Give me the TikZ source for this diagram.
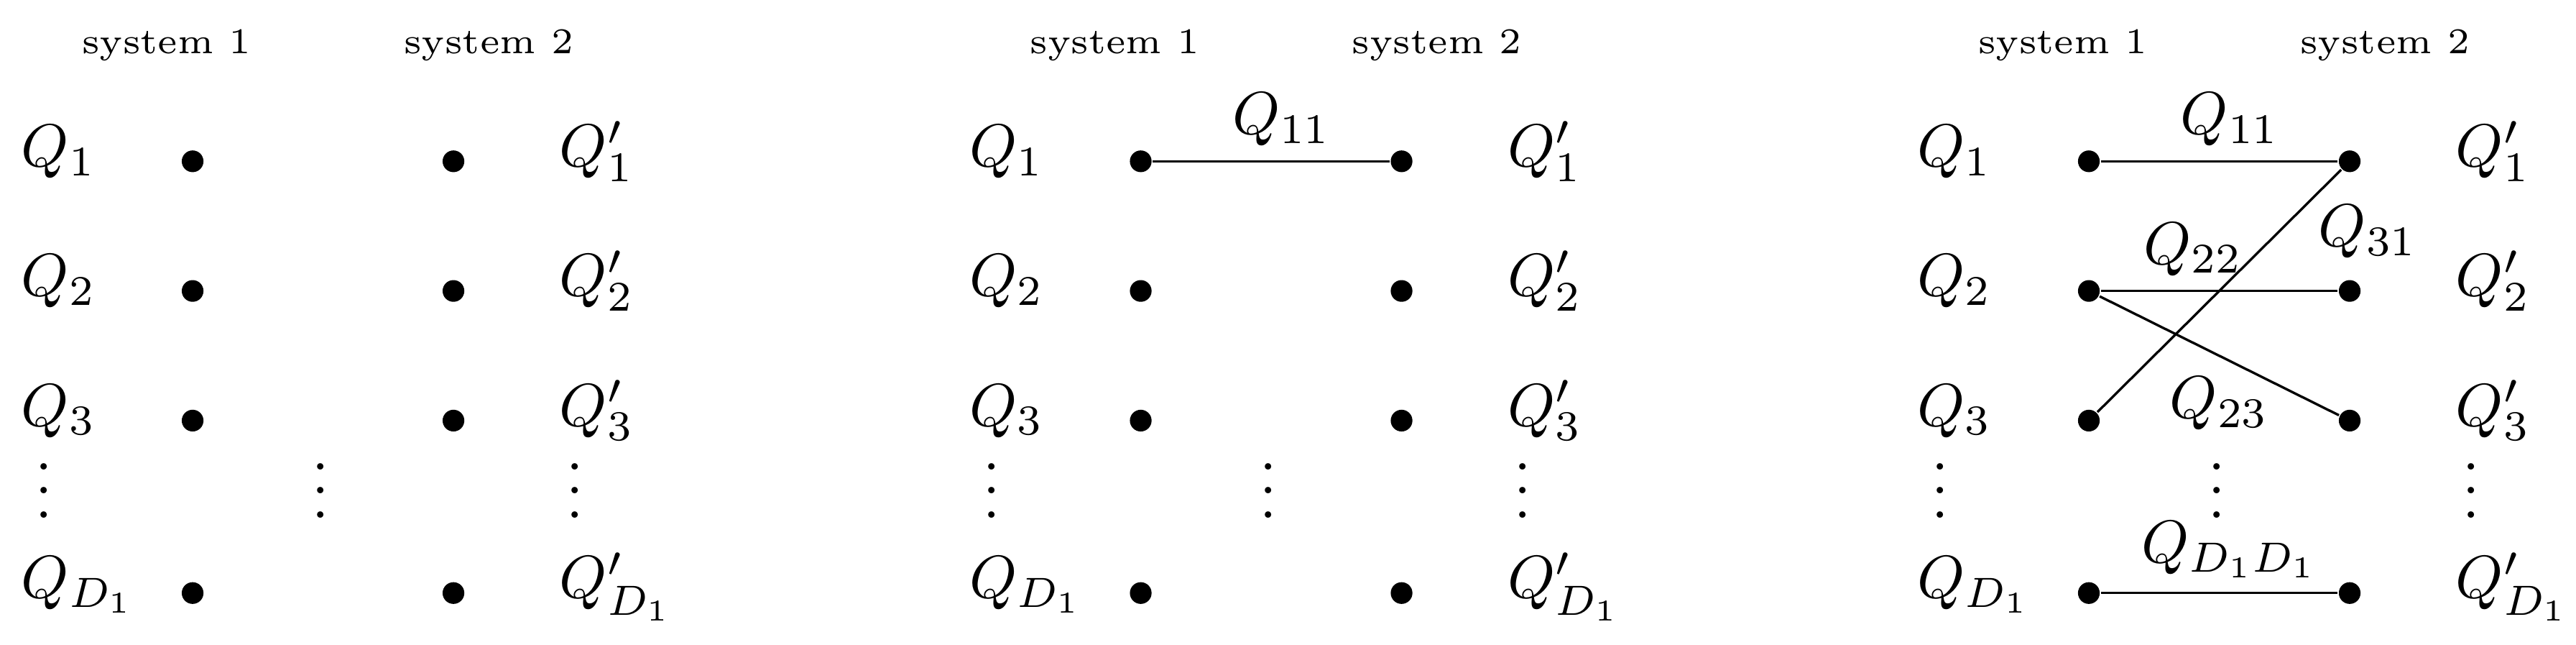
\documentclass[tikz,border=0pt]{standalone}
\usepackage{amsmath}

\begin{document}
\begin{tikzpicture}[x=0.76cm,y=0.755cm,
	qdot/.style={circle,fill,inner sep=0pt,minimum size=3.6pt},
	qlabel/.style={anchor=base west},
	syslabel/.style={anchor=base,font=\fontsize{6}{7}\selectfont},
	qc/.style={above,yshift=-1pt}]
		\useasboundingbox (-1.477,-3.728) rectangle (18.275,1.244);

		% Uncoupled systems
		\begin{scope}
			\node[syslabel] (sa1) at (-0.2,0.833) {system 1};
			\node[syslabel] (sa2) at (2.27,0.833) {system 2};
			\foreach \r/\y/\s in {1/0/1,2/-1/2,3/-2/3,D/-3.33/D_1}{
				\node[qdot] (a\r) at (0,\y) {};
				\node[qdot] (b\r) at (2,\y) {};
				\node[qlabel] (la\r) at (-1.477,\y-0.04) {$Q_{\s}$};
				\node[qlabel] (lb\r) at (2.65,\y-0.04) {$Q'_{\s}$};
			}
			\node (av1) at (-1.14,-2.4) {$\vdots$};
			\node (av2) at (0.98,-2.4) {$\vdots$};
			\node (av3) at (2.93,-2.4) {$\vdots$};
		\end{scope}

		% One coupling
		\begin{scope}[xshift=5.525cm]
			\node[syslabel] (sc1) at (-0.2,0.833) {system 1};
			\node[syslabel] (sc2) at (2.27,0.833) {system 2};
			\foreach \r/\y/\s in {1/0/1,2/-1/2,3/-2/3,D/-3.33/D_1}{
				\node[qdot] (c\r) at (0,\y) {};
				\node[qdot] (d\r) at (2,\y) {};
				\node[qlabel] (lc\r) at (-1.477,\y-0.04) {$Q_{\s}$};
				\node[qlabel] (ld\r) at (2.65,\y-0.04) {$Q'_{\s}$};
			}
			\node (cv1) at (-1.14,-2.4) {$\vdots$};
			\node (cv2) at (0.98,-2.4) {$\vdots$};
			\node (cv3) at (2.93,-2.4) {$\vdots$};
			\draw (c1) -- node[qc,pos=0.545] (cq11) {$Q_{11}$} (d1);
		\end{scope}

		% Several couplings
		\begin{scope}[xshift=11.05cm]
			\node[syslabel] (se1) at (-0.2,0.833) {system 1};
			\node[syslabel] (se2) at (2.27,0.833) {system 2};
			\foreach \r/\y/\s in {1/0/1,2/-1/2,3/-2/3,D/-3.33/D_1}{
				\node[qdot] (e\r) at (0,\y) {};
				\node[qdot] (f\r) at (2,\y) {};
				\node[qlabel] (le\r) at (-1.477,\y-0.04) {$Q_{\s}$};
				\node[qlabel] (lf\r) at (2.65,\y-0.04) {$Q'_{\s}$};
			}
			\node (ev1) at (-1.14,-2.4) {$\vdots$};
			\node (ev2) at (0.98,-2.4) {$\vdots$};
			\node (ev3) at (2.93,-2.4) {$\vdots$};
			\draw (e1) -- node[qc,pos=0.545] (eq11) {$Q_{11}$} (f1);
			\draw (e2) -- node[qc,pos=0.39] (eq22) {$Q_{22}$} (f2);
			\draw (e2) -- node[below] (eq23) {$Q_{23}$} (f3);
			\draw (e3) -- node[right,pos=0.82,yshift=-3pt] (eq31) {$Q_{31}$} (f1);
			\draw (eD) -- node[qc,pos=0.545] (eqDD) {$Q_{D_1D_1}$} (fD);
		\end{scope}
	\end{tikzpicture}
\end{document}
